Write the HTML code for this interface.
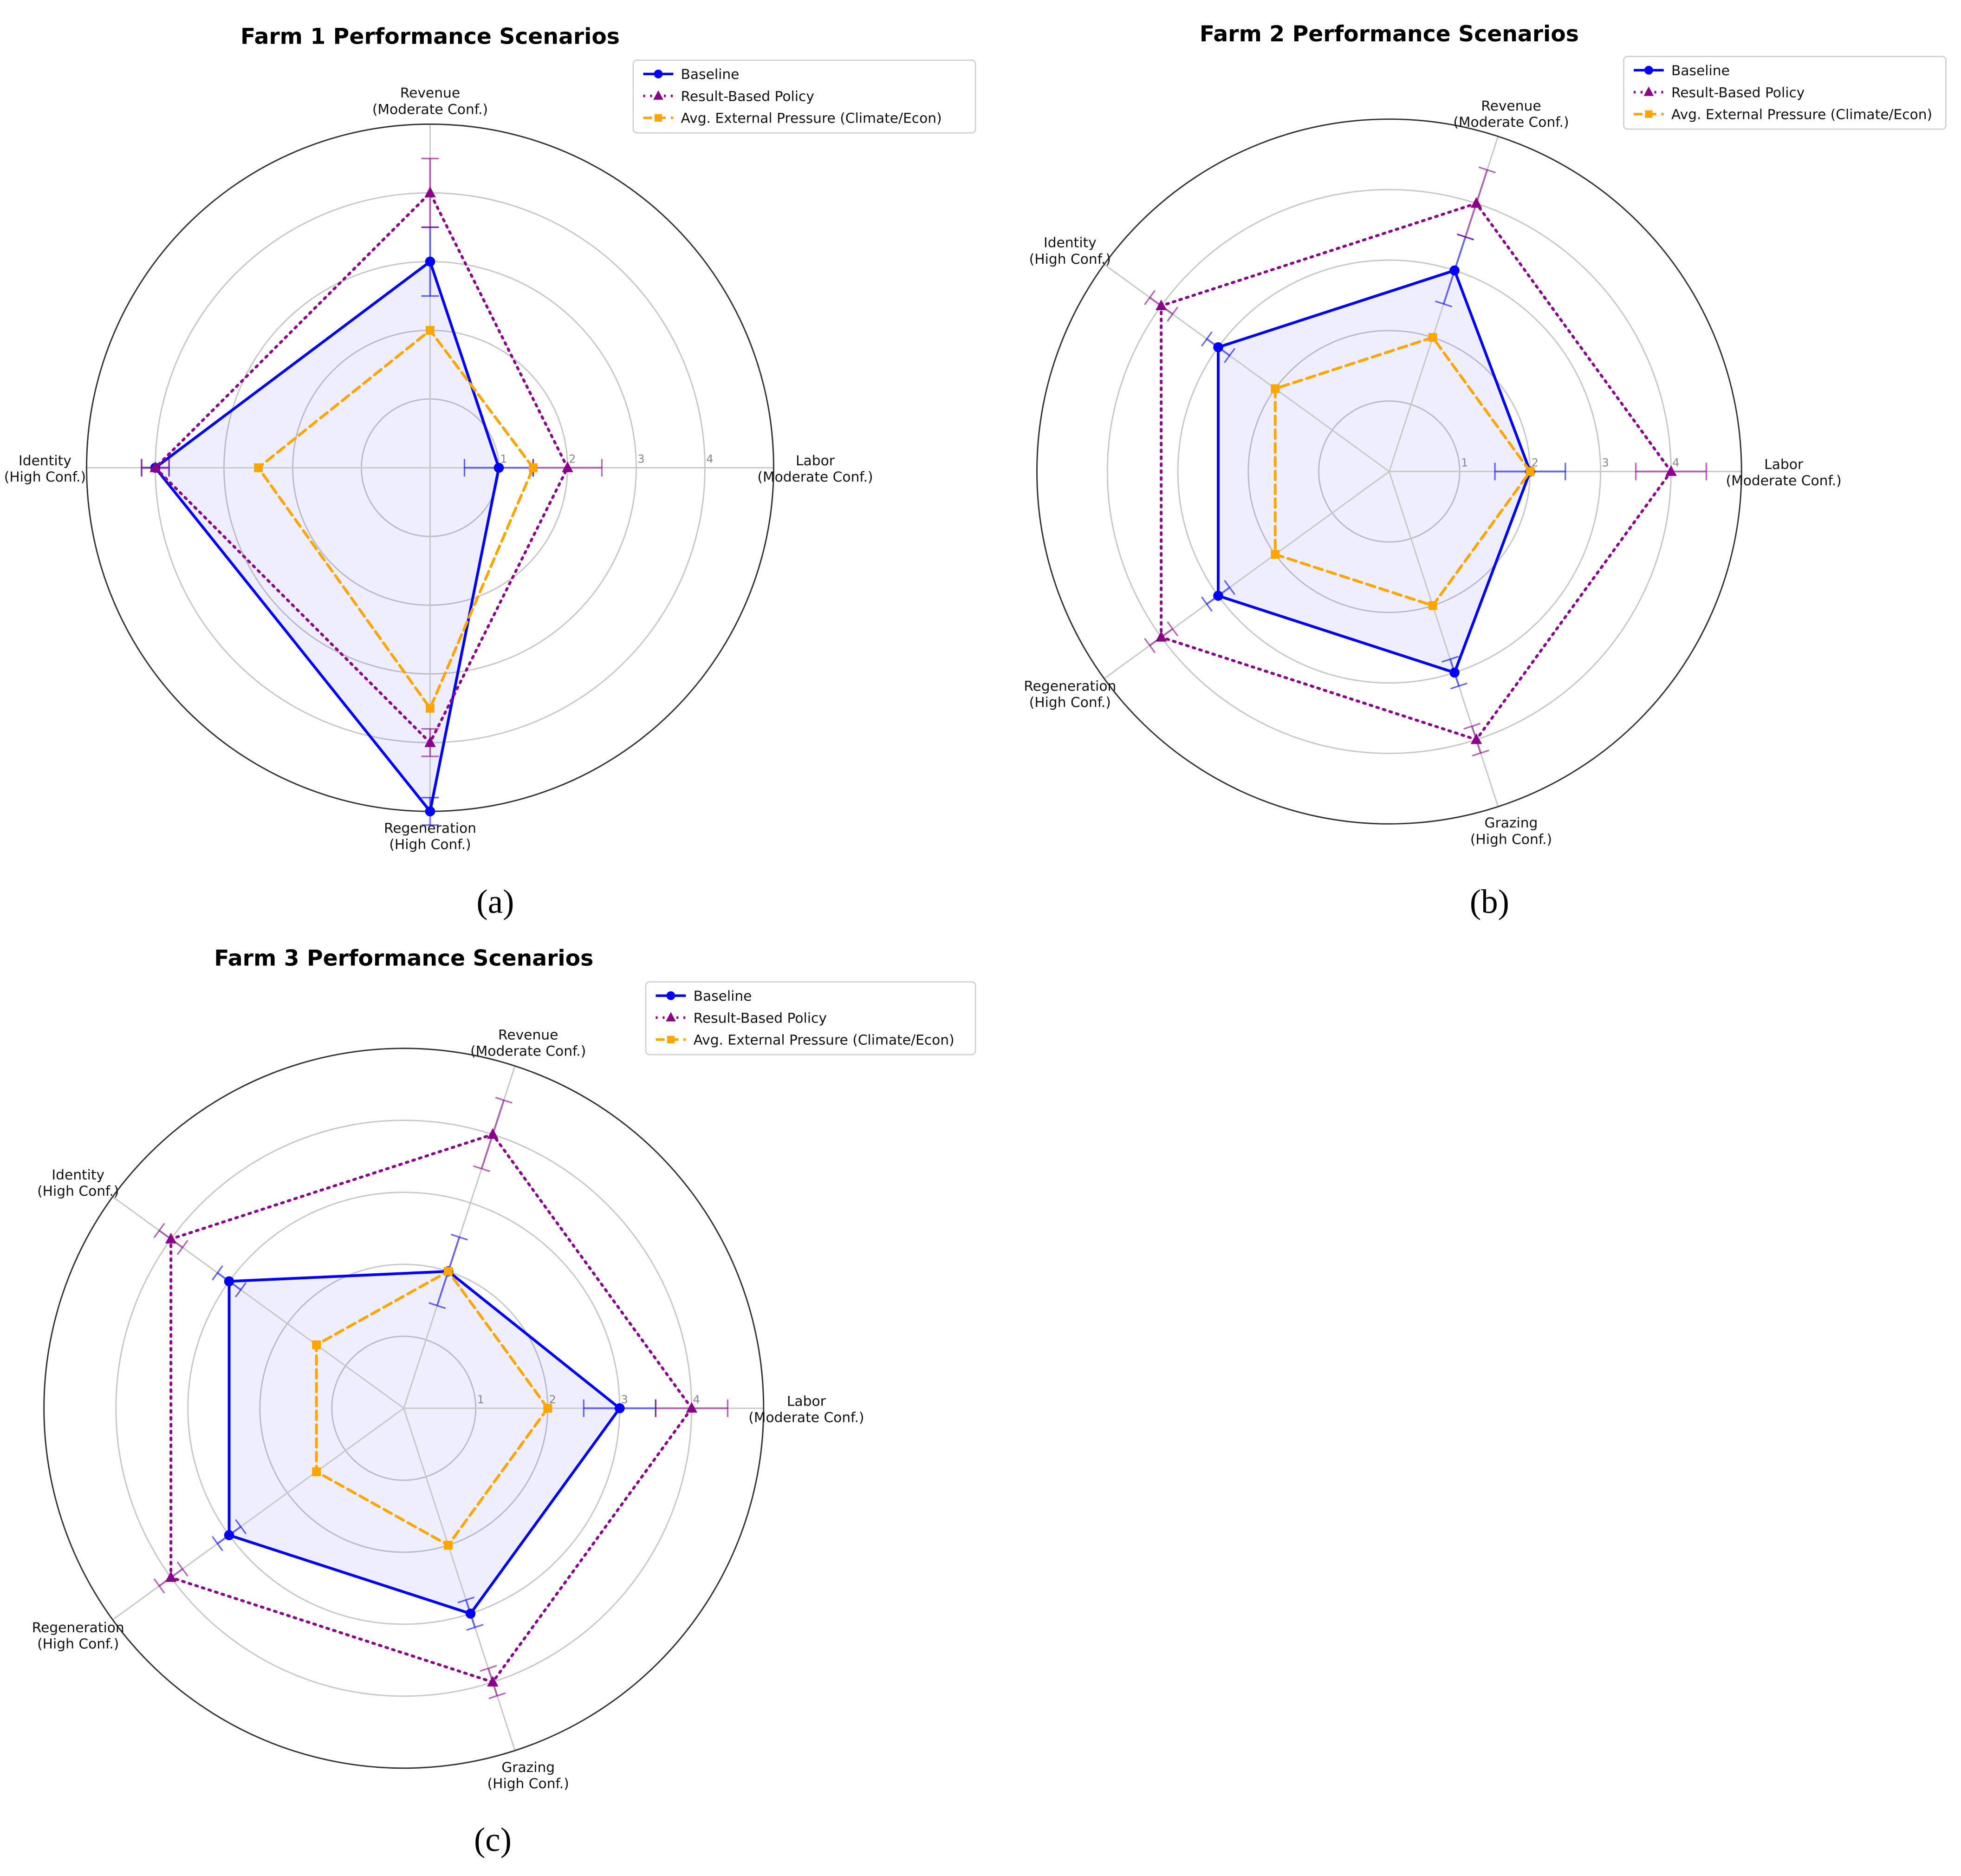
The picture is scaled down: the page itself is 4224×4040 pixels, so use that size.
<!DOCTYPE html>
<html><head><meta charset="utf-8"><style>
html,body{margin:0;padding:0;background:#fff}
svg{display:block}
text{font-family:"DejaVu Sans","Liberation Sans",sans-serif}
text.serif{font-family:"Liberation Serif",serif}
</style></head><body>
<svg id="fig" width="4224" height="4040" viewBox="0 0 1564 1496" xmlns="http://www.w3.org/2000/svg">
</svg>
<script>
const farm1Axes = ["Labor\n(Moderate Conf.)","Revenue\n(Moderate Conf.)","Identity\n(High Conf.)","Regeneration\n(High Conf.)"];
const farm1Baseline = [1,3,4,5];
const farm1Policy = [2,4,4,4];
const farm1Pressure = [1.5,2,2.5,3.5];
const farm1Err = [0.5,0.5,0.2,0.2];

const farm2Axes = ["Labor\n(Moderate Conf.)","Revenue\n(Moderate Conf.)","Identity\n(High Conf.)","Regeneration\n(High Conf.)","Grazing\n(High Conf.)"];
const farm2Baseline = [2,3,3,3,3];
const farm2Policy = [4,4,4,4,4];
const farm2Pressure = [2,2,2,2,2];
const farm2Err = [0.5,0.5,0.2,0.2,0.2];

const farm3Axes = ["Labor\n(Moderate Conf.)","Revenue\n(Moderate Conf.)","Identity\n(High Conf.)","Regeneration\n(High Conf.)","Grazing\n(High Conf.)"];
const farm3Baseline = [3,2,3,3,3];
const farm3Policy = [4,4,4,4,4];
const farm3Pressure = [2,2,1.5,1.5,2];
const farm3Err = [0.5,0.5,0.2,0.2,0.2];

const rTicks = ["1","2","3","4"];
const legendLabels = ["Baseline","Result-Based Policy","Avg. External Pressure (Climate/Econ)"];

const NS="http://www.w3.org/2000/svg";
const fig=document.getElementById('fig');
function mk(tag,attrs,parent){const e=document.createElementNS(NS,tag);for(const k in attrs)e.setAttribute(k,attrs[k]);(parent||fig).appendChild(e);return e;}

function radar(cfg){
  const g=mk('g',{});
  
  
  const cx=cfg.cx,cy=cfg.cy,u=cfg.unit,n=cfg.axes.length,rmax=5;
  const ang=i=>i*2*Math.PI/n;
  const pt=(i,v)=>[cx+Math.cos(ang(i))*v*u, cy-Math.sin(ang(i))*v*u];
  for(let k=1;k<=4;k++){const c=mk('circle',{cx,cy,r:k*u,fill:'none',stroke:'#c8c8c8','stroke-width':1.1},g);
    }
  const bp=cfg.base.map((v,i)=>pt(i,v).join(',')).join(' ');
  const fillp=mk('polygon',{points:bp,fill:'#0000ff','fill-opacity':0.065,stroke:'none'},g);
  
  for(let i=0;i<n;i++){const p=pt(i,rmax);const l=mk('line',{x1:cx,y1:cy,x2:p[0],y2:p[1],stroke:'#c8c8c8','stroke-width':1.1},g);
    }
  const oc=mk('circle',{cx,cy,r:rmax*u,fill:'none',stroke:'#333','stroke-width':1.1},g);
  
  rTicks.forEach((t,k)=>{const tx=mk('text',{x:cx+(k+1)*u+1,y:cy-4,'font-size':9,fill:'#888'},g);tx.textContent=t;
    });
  cfg.axes.forEach((lab,i)=>{const p=pt(i,rmax*1.07);const lines=lab.split('\n');
    const tx=mk('text',{x:p[0]+Math.cos(ang(i))*14,y:p[1]-2,'font-size':11,'text-anchor':'middle',fill:'#111'},g);
    
    lines.forEach((ln,j)=>{const ts=mk('tspan',{x:p[0]+Math.cos(ang(i))*14,dy:j?13:0},tx);ts.textContent=ln;});});
  const series=[
    {v:cfg.base,color:'#0000ff',dash:'',w:2.2,m:'circle',name:'baseline',eb:true},
    {v:cfg.pol,color:'#8b008b',dash:'1.5,4',w:2.2,m:'tri',name:'policy',eb:true},
    {v:cfg.pres,color:'#ffa500',dash:'7,4',w:2.2,m:'sq',name:'pressure',eb:false}];
  series.forEach(s=>{
    const pts=s.v.map((v,i)=>pt(i,v).join(',')).join(' ');
    const pl=mk('polygon',{points:pts,fill:'none',stroke:s.color,'stroke-width':s.w,'stroke-dasharray':s.dash,'stroke-linecap':'round'},g);
    
    s.v.forEach((v,i)=>{
      if(s.eb){
      const e=cfg.err[i];const a=pt(i,v-e),b=pt(i,v+e);
      const eb=mk('line',{x1:a[0],y1:a[1],x2:b[0],y2:b[1],stroke:s.color,'stroke-opacity':0.5,'stroke-width':1.5},g);
      
      const dx=-Math.sin(ang(i))*7, dy=-Math.cos(ang(i))*7;
      [a,b].forEach(q=>{const c=mk('line',{x1:q[0]-dx,y1:q[1]-dy,x2:q[0]+dx,y2:q[1]+dy,stroke:s.color,'stroke-opacity':0.6,'stroke-width':1.2},g);
        });
      }
      const p=pt(i,v);let mkr;
      if(s.m==='circle')mkr=mk('circle',{cx:p[0],cy:p[1],r:4,fill:s.color},g);
      else if(s.m==='tri')mkr=mk('polygon',{points:`${p[0]},${p[1]-5} ${p[0]-4.5},${p[1]+3.5} ${p[0]+4.5},${p[1]+3.5}`,fill:s.color},g);
      else mkr=mk('rect',{x:p[0]-3.5,y:p[1]-3.5,width:7,height:7,fill:s.color},g);
      
    });
  });
  const t=mk('text',{x:cfg.tx,y:cfg.ty,'font-size':17.5,'font-weight':'bold','text-anchor':'middle',fill:'#000'},g);
  t.textContent=cfg.title;
  const L=cfg.leg;
  const lg=mk('g',{},g);
  const rb=mk('rect',{x:L[0],y:L[1],width:L[2],height:58,fill:'#fff',stroke:'#d0d0d0',rx:3},lg);
  
  series.forEach((s,k)=>{const y=L[1]+11+k*17.5;
    const ll=mk('line',{x1:L[0]+8,y1:y,x2:L[0]+32,y2:y,stroke:s.color,'stroke-width':2,'stroke-dasharray':s.dash},lg);
    
    const mx=L[0]+20;let mm;
    if(s.m==='circle')mm=mk('circle',{cx:mx,cy:y,r:3.5,fill:s.color},lg);
    else if(s.m==='tri')mm=mk('polygon',{points:`${mx},${y-4.5} ${mx-4},${y+3} ${mx+4},${y+3}`,fill:s.color},lg);
    else mm=mk('rect',{x:mx-3,y:y-3,width:6,height:6,fill:s.color},lg);
    
    const tx=mk('text',{x:L[0]+38,y:y+4,'font-size':11,fill:'#111'},lg);tx.textContent=legendLabels[k];
    });
  const pl2=mk('text',{x:cfg.px,y:cfg.py,'font-size':27,'text-anchor':'middle',fill:'#000','class':'serif'},g);
  pl2.textContent=cfg.panel;
}

radar({name:'farm1-radar',cx:343,cy:373,unit:54.8,axes:farm1Axes,base:farm1Baseline,pol:farm1Policy,pres:farm1Pressure,err:farm1Err,
  title:'Farm 1 Performance Scenarios',tx:343,ty:35,leg:[505,48,273],panel:'(a)',px:395,py:728});
radar({name:'farm2-radar',cx:1108,cy:376,unit:56.2,axes:farm2Axes,base:farm2Baseline,pol:farm2Policy,pres:farm2Pressure,err:farm2Err,
  title:'Farm 2 Performance Scenarios',tx:1108,ty:33,leg:[1295,45,257],panel:'(b)',px:1188,py:728});
radar({name:'farm3-radar',cx:322,cy:1123,unit:57.4,axes:farm3Axes,base:farm3Baseline,pol:farm3Policy,pres:farm3Pressure,err:farm3Err,
  title:'Farm 3 Performance Scenarios',tx:322,ty:770,leg:[515,783,263],panel:'(c)',px:393,py:1476});
</script>
</body></html>
